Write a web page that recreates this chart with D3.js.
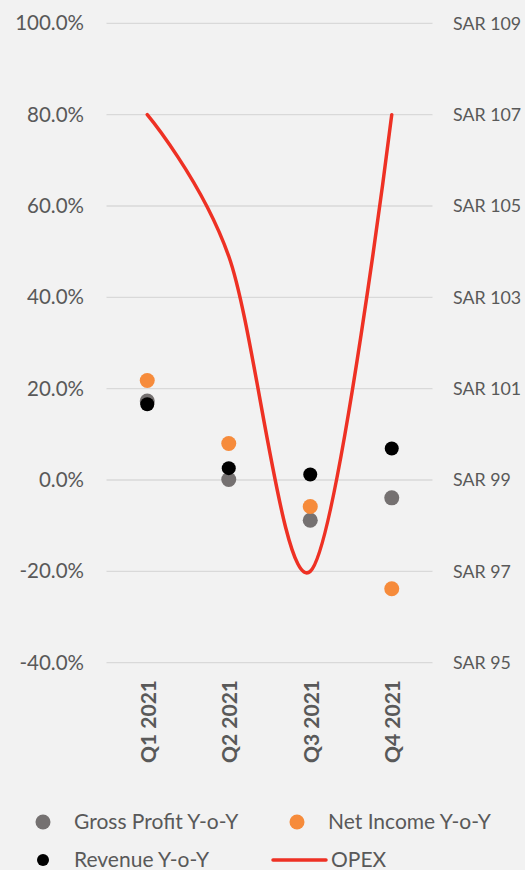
<!DOCTYPE html>
<html>
<head>
<meta charset="utf-8">
<script src="https://cdn.jsdelivr.net/npm/d3@7"></script>
<style>
  html, body { margin: 0; padding: 0; background: #f2f2f2; }
  svg { display: block; }
</style>
</head>
<body>
<div id="chart"></div>
<script>
  const quarters = ['Q1 2021', 'Q2 2021', 'Q3 2021', 'Q4 2021'];
  const grossProfit = [17.3, 0.1, -8.8, -3.9];
  const netIncome = [21.8, 8.0, -5.8, -23.8];
  const revenue = [16.6, 2.6, 1.2, 6.9];
  const opex = [107.0, 103.9, 97.0, 107.0];
  const leftTicks = [-40, -20, 0, 20, 40, 60, 80, 100];
  const rightTicks = [95, 97, 99, 101, 103, 105, 107, 109];

  const W = 525, H = 870;
  const font = 'Lato, "Open Sans", sans-serif';
  const txt = '#595959';

  const svg = d3.select('#chart').append('svg')
    .attr('width', W).attr('height', H)
    .style('background', '#f2f2f2');

  const x = d3.scaleBand().domain(quarters).range([106.5, 432.5]);
  const yL = d3.scaleLinear().domain([-40, 100]).range([662.7, 23.3]);
  const yR = d3.scaleLinear().domain([95, 109]).range([662.7, 23.3]);
  const cx = d => x(d) + x.bandwidth() / 2;

  // grid
  svg.append('g')
    .selectAll('line').data(leftTicks).join('line')
    .attr('x1', 106.5).attr('x2', 432.5)
    .attr('y1', d => yL(d)).attr('y2', d => yL(d))
    .attr('stroke', '#d9d9d9').attr('stroke-width', 1.3);

  // left axis
  svg.append('g')
    .attr('transform', 'translate(84,0)')
    .call(d3.axisLeft(yL).tickValues(leftTicks).tickSize(0).tickPadding(0)
      .tickFormat(d => d.toFixed(1) + '%'))
    .call(sel => {
      sel.select('.domain').remove();
      sel.selectAll('text').attr('fill', txt).style('font-size', '20.5px').style('font-family', font);
    });

  // right axis
  svg.append('g')
    .attr('transform', 'translate(453,0)')
    .call(d3.axisRight(yR).tickValues(rightTicks).tickSize(0).tickPadding(0)
      .tickFormat(d => 'SAR ' + d))
    .call(sel => {
      sel.select('.domain').remove();
      sel.selectAll('text').attr('fill', txt).style('font-size', '17.8px').style('font-family', font);
    });

  // x labels
  svg.append('g')
    .selectAll('text').data(quarters).join('text')
    .attr('transform', d => `translate(${cx(d) + 8.5},680) rotate(-90)`)
    .attr('text-anchor', 'end')
    .attr('fill', txt)
    .style('font-size', '21px').style('font-weight', 'bold').style('font-family', font)
    .text(d => d);

  const series = [
    { name: 'Gross Profit Y-o-Y', values: grossProfit, color: '#757171', r: 7.5 },
    { name: 'Net Income Y-o-Y', values: netIncome, color: '#f68b3b', r: 7.5 },
    { name: 'Revenue Y-o-Y', values: revenue, color: '#000000', r: 7 }
  ];

  series.forEach(s => {
    svg.append('g')
      .selectAll('circle').data(s.values).join('circle')
      .attr('cx', (d, i) => cx(quarters[i]))
      .attr('cy', d => yL(d))
      .attr('r', s.r)
      .attr('fill', s.color);
  });

  const line = d3.line()
    .x((d, i) => cx(quarters[i]))
    .y(d => yR(d))
    .curve(d3.curveCardinal.tension(0));

  svg.append('path')
    .datum(opex)
    .attr('d', line)
    .attr('fill', 'none')
    .attr('stroke', '#ee3124')
    .attr('stroke-width', 3.5)
    .attr('stroke-linecap', 'round');

  // legend
  const lg = svg.append('g').style('font-family', font).style('font-size', '21px');
  const items = [
    { s: series[0], x: 43, y: 822 },
    { s: series[1], x: 297, y: 822 },
    { s: series[2], x: 43, y: 860 }
  ];
  items.forEach(it => {
    lg.append('circle').attr('cx', it.x).attr('cy', it.y).attr('r', it.s === series[2] ? 6 : 7.5).attr('fill', it.s.color);
    lg.append('text').attr('x', it.x + 31).attr('y', it.y).attr('dy', '0.35em').attr('fill', txt).text(it.s.name);
  });
  lg.append('line').attr('x1', 273).attr('x2', 326).attr('y1', 860).attr('y2', 860)
    .attr('stroke', '#ee3124').attr('stroke-width', 3.5).attr('stroke-linecap', 'round');
  lg.append('text').attr('x', 331).attr('y', 860).attr('dy', '0.35em').attr('fill', txt).text('OPEX');
</script>
</body>
</html>
